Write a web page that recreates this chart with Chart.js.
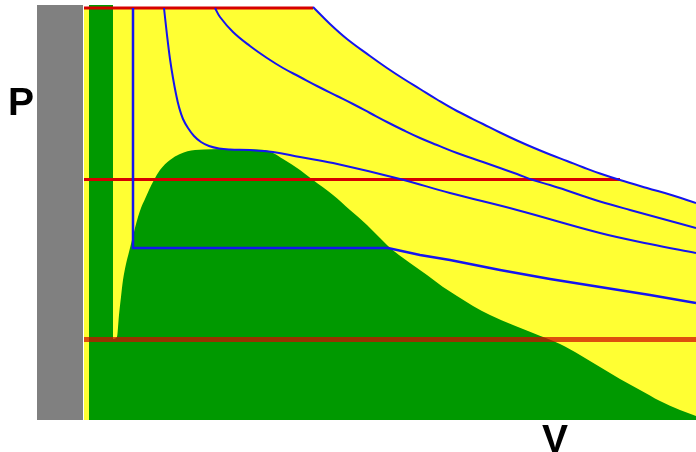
<!DOCTYPE html>
<html>
<head>
<meta charset="utf-8">
<script src="https://cdn.jsdelivr.net/npm/chart.js@4.4.1/dist/chart.umd.min.js"></script>
<style>
  html, body { margin: 0; padding: 0; background: #fff; }
  #wrap { width: 696px; height: 452px; }
</style>
</head>
<body>
<div id="wrap"><canvas id="pv" width="696" height="452"></canvas></div>
<script>
// volume / pressure in arbitrary units
const wallV = [0, 46]
const wallP = [415, 415]

const liquidV = [52, 76]
const liquidP = [415, 415]

const topV = [47, 277]
const topP = [413, 413]

// isobars (red): pressure and where each one stops
const isobarP = [412, 240.5, 80.5]
const isobarStartV = 47
const isobarEndV = [276, 583, 659]

// coexistence dome
const domeV = [75, 80, 82, 84, 86, 89, 92, 95, 98, 101, 104, 108, 112, 117, 123, 133, 143, 158, 193, 228,
    236, 246, 263, 276, 296, 313, 330, 343, 351, 373, 390, 406, 420, 436, 453, 476, 496, 523, 543, 563,
    583, 603, 623, 643, 659]
const domeP = [81, 83, 105, 123, 140, 156, 168, 180, 192, 203, 212, 221, 230, 240, 250, 260, 266, 270, 271, 270,
    267, 261, 250, 240, 225, 210, 195, 182, 174, 157, 145, 133, 124, 114, 105, 95, 87, 76, 65, 53,
    41, 30, 19, 10, 4]

// isotherms (blue), lowest to highest
const iso1V = [96, 96, 351, 383, 413, 463, 513, 563, 613, 659]
const iso1P = [412, 172, 172, 165, 160, 150, 141, 133, 125, 117]

const iso2V = [127, 130, 133, 136, 139, 142, 146, 151, 157, 164, 172, 182, 193, 213, 236, 263, 296, 363, 413, 480, 563, 613, 659]
const iso2P = [412, 385, 361, 342, 326, 313, 301, 292, 284, 278, 274, 271.5, 270.5, 270, 268, 263, 257, 241, 227, 210, 187, 176, 167]

const iso3V = [178, 183, 196, 213, 230, 246, 263, 280, 300, 316, 333, 350, 366, 383, 400, 420, 446, 463, 480, 496,
    513, 530, 546, 563, 593, 626, 659]
const iso3P = [412, 403, 388, 374, 362, 352, 343, 334, 324, 316, 307, 298, 290, 282, 275, 267, 258, 252, 246, 240,
    235, 229.5, 224, 218.5, 210, 201, 192]

const outerV = [276, 293, 310, 333, 350, 366, 383, 400, 420, 446, 463, 480, 496, 513, 530, 546, 563, 583, 610, 636, 659]
const outerP = [413, 396, 381, 364, 352, 341.5, 331, 320.5, 309, 296, 287.5, 279.5, 272.5, 265.5, 259, 252.8, 246.5, 240, 232, 224.5, 217]

const YELLOW = '#ffff33'
const GREEN = '#009900'
const BLUE = '#1414f0'
const NONE = 'rgba(0,0,0,0)'

function pts(vs, ps) {
    return vs.map((v, i) => ({ x: v, y: ps[i] }))
}

// smooth: 'monotone', a number (bezier tension) or nothing for straight segments
function shape(ds, smooth) {
    if (smooth === 'monotone') {
        ds.cubicInterpolationMode = 'monotone'
    } else {
        ds.tension = smooth || 0
    }
    return ds
}

function area(data, color, order, smooth) {
    return shape({
        data: data,
        backgroundColor: color,
        borderColor: NONE,
        borderWidth: 0,
        fill: 'start',
        order: order
    }, smooth)
}

function curve(data, color, width, order, smooth) {
    return shape({
        data: data,
        borderColor: color,
        borderWidth: width,
        fill: false,
        order: order
    }, smooth)
}

const isobarColors = ['#d60000', '#d60000', 'rgba(209,14,0,0.73)']
const isobarWidths = [3, 3, 5]

const datasets = [
    area(pts(wallV, wallP), '#808080', 10),
    area(pts(topV, topP), YELLOW, 10),
    area(pts(outerV, outerP), YELLOW, 10, 0.4),
    area(pts(liquidV, liquidP), GREEN, 9),
    area(pts(domeV, domeP), GREEN, 8, 'monotone'),
]

isobarP.forEach((p, i) => {
    datasets.push(curve(pts([isobarStartV, isobarEndV[i]], [p, p]), isobarColors[i], isobarWidths[i], 6))
})

datasets.push(curve(pts(iso1V, iso1P), BLUE, 2.5, 5))
datasets.push(curve(pts(iso2V, iso2P), BLUE, 2, 5, 0.4))
datasets.push(curve(pts(iso3V, iso3P), BLUE, 2, 5, 0.4))
datasets.push(curve(pts(outerV, outerP), BLUE, 2, 5, 0.4))

const labelPlugin = {
    id: 'pvLabels',
    afterDraw(chart) {
        const ctx = chart.ctx
        ctx.save()
        ctx.fillStyle = '#000'
        ctx.font = 'bold 39px "Liberation Sans", Arial, sans-serif'
        ctx.textBaseline = 'alphabetic'
        ctx.fillText('P', 8, 115)
        ctx.fillText('V', 542, 452)
        ctx.restore()
    }
}

new Chart(document.getElementById('pv'), {
    type: 'line',
    data: { datasets: datasets },
    options: {
        responsive: false,
        animation: false,
        events: [],
        layout: { padding: { left: 37, top: 5, right: 0, bottom: 32 } },
        elements: { point: { radius: 0, hoverRadius: 0 } },
        plugins: {
            legend: { display: false },
            tooltip: { enabled: false }
        },
        scales: {
            x: { type: 'linear', min: 0, max: 659, display: false },
            y: { type: 'linear', min: 0, max: 415, display: false }
        }
    },
    plugins: [labelPlugin]
})
</script>
</body>
</html>
